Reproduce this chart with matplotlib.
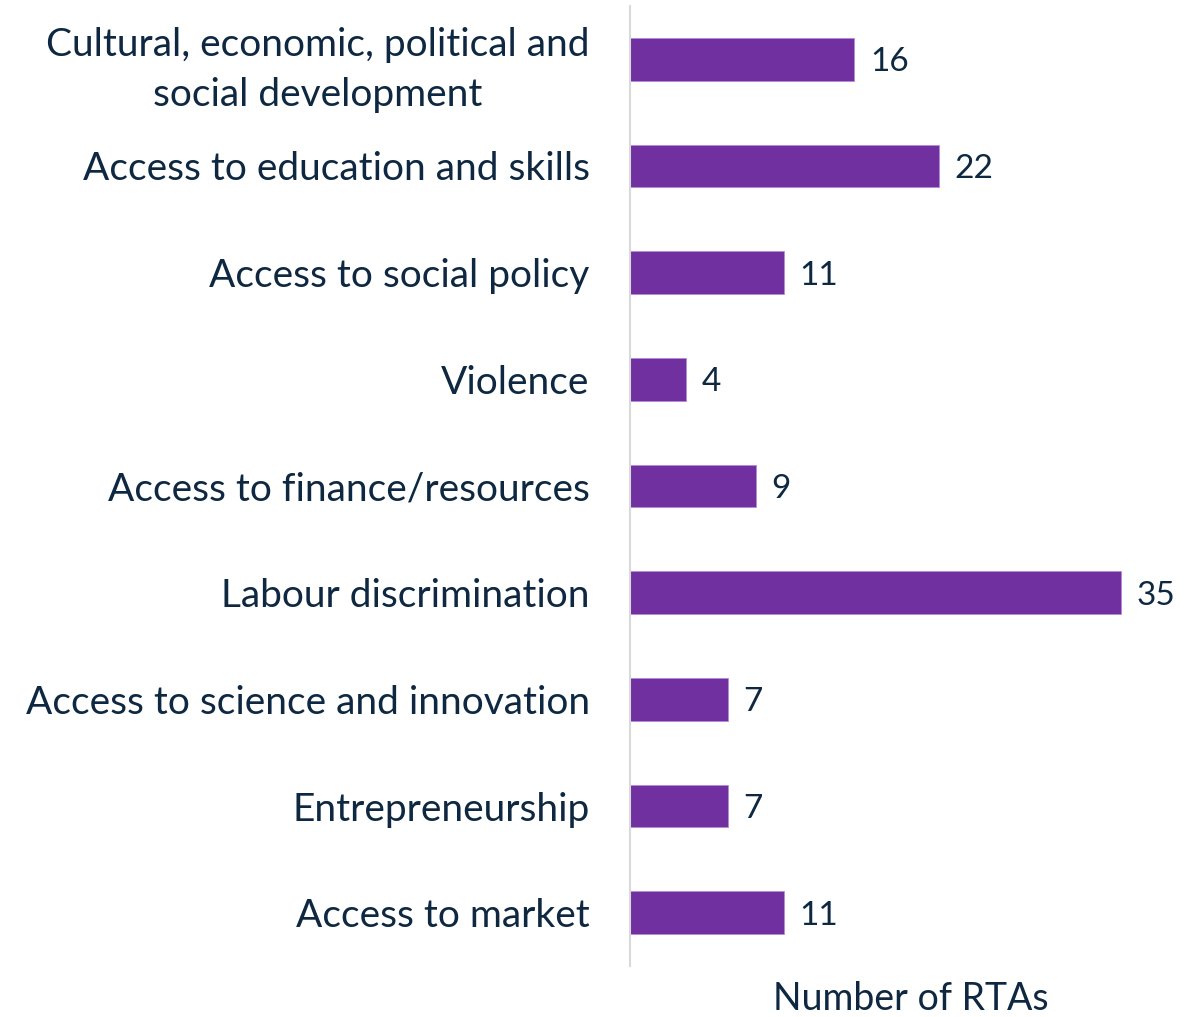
import numpy as np
import matplotlib.pyplot as plt

# data, top to bottom as in the chart
categories = ["Cultural, economic, political and\nsocial development",
              "Access to education and skills",
              "Access to social policy",
              "Violence",
              "Access to finance/resources",
              "Labour discrimination",
              "Access to science and innovation",
              "Entrepreneurship",
              "Access to market"]
counts = [16, 22, 11, 4, 9, 35, 7, 7, 11]

text_col = "#0E2841"
bar_col = "#7030A0"

plt.rcParams['font.family'] = ['Lato', 'DejaVu Sans']

fig = plt.figure(figsize=(11.98, 10.17), dpi=100)
ax = fig.add_axes([630/1198, 1-966/1017, (1191-630)/1198, (966-6)/1017])

y = np.arange(len(categories))
ax.barh(y, counts, height=0.4, color=bar_col, edgecolor="#B58BD6", linewidth=0.6)

for yi, c in zip(y, counts):
    ax.text(c + 1.1, yi, str(c), va="center_baseline", ha="left", fontsize=24, color=text_col)

ax.set_yticks(y)
ax.set_yticklabels(categories, fontsize=28, color=text_col, multialignment="center",
                   linespacing=1.5)
ax.tick_params(axis="y", length=0, pad=29)
ax.set_xticks([])
ax.set_ylim(len(categories) - 0.5, -0.5)
ax.set_xlim(0, 40)

for s in ["top", "right", "bottom"]:
    ax.spines[s].set_visible(False)
ax.spines["left"].set_color("#D9D9D9")
ax.spines["left"].set_linewidth(1.5)

ax.set_xlabel("Number of RTAs", fontsize=27, color=text_col, labelpad=11)

fig.savefig("out.png", dpi=100)
